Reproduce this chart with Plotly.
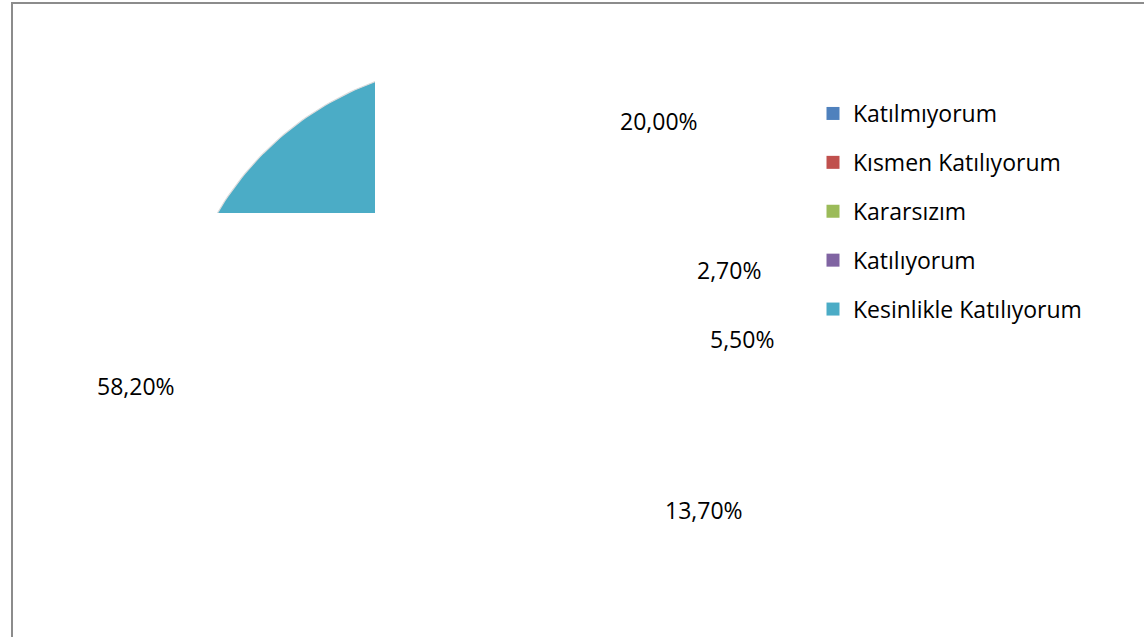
import numpy as np
import plotly.graph_objects as go

# ---- data ----
categories = ["Katılmıyorum", "Kısmen Katılıyorum", "Kararsızım", "Katılıyorum", "Kesinlikle Katılıyorum"]
values = [20.0, 2.7, 5.5, 13.7, 58.2]
colors = ["#4F81BD", "#C0504D", "#9BBB59", "#8064A2", "#4BACC6"]

# ---- layout constants (pixels) ----
W, H = 1144, 637
CX, CY, R = 480.0, 368.0, 305.0          # pie centre / radius in page pixels
CLIP_RIGHT, CLIP_BOTTOM = 375.0, 213.0     # visible plot-area clip
LABEL_K = 1.0
LABEL_NUDGE = [(0, 0), (-48, -28), (-43, -37), (-23, -38), (-49, -59)]
FONT = "Open Sans"

fig = go.Figure()

total = sum(values)
cum = np.concatenate([[0.0], np.cumsum(values) / total])

# pie slices drawn as filled polygons (clockwise from 12 o'clock) on a clipped axis
for i, (name, col) in enumerate(zip(categories, colors)):
    th = np.linspace(cum[i], cum[i + 1], 200) * 2 * np.pi
    xs = np.concatenate([[0.0], np.sin(th), [0.0]])
    ys = np.concatenate([[0.0], np.cos(th), [0.0]])
    fig.add_trace(go.Scatter(
        x=xs, y=ys, mode="lines", fill="toself", fillcolor=col,
        line=dict(color="#dcdcdc", width=1.2), hoverinfo="skip",
        showlegend=False, xaxis="x", yaxis="y"))

# legend entries
for name, col in zip(categories, colors):
    fig.add_trace(go.Scatter(
        x=[50], y=[50], mode="markers", name=name, legendgroup=name,
        marker=dict(symbol="square", size=13, color=col),
        xaxis="x", yaxis="y", hoverinfo="skip"))

# data labels
annotations = []
for i, v in enumerate(values):
    mid = (cum[i] + cum[i + 1]) / 2 * 2 * np.pi
    px = CX + LABEL_K * R * np.sin(mid)
    py = CY - LABEL_K * R * np.cos(mid)
    nx, ny = LABEL_NUDGE[i]
    annotations.append(dict(
        x=px / W, y=1 - py / H, xref="paper", yref="paper",
        text=f"{v:.2f}".replace(".", ",") + "%", showarrow=False,
        xanchor="center", yanchor="middle", xshift=nx, yshift=-ny,
        font=dict(family=FONT, size=23, color="#000000")))

fig.update_layout(
    width=W, height=H,
    margin=dict(l=0, r=0, t=0, b=0),
    paper_bgcolor="white", plot_bgcolor="rgba(0,0,0,0)",
    font=dict(family=FONT, size=23, color="#000000"),
    xaxis=dict(domain=[0, CLIP_RIGHT / W],
               range=[(0 - CX) / R, (CLIP_RIGHT - CX) / R],
               visible=False, fixedrange=True),
    yaxis=dict(domain=[1 - CLIP_BOTTOM / H, 1],
               range=[(CY - CLIP_BOTTOM) / R, CY / R],
               visible=False, fixedrange=True),
    showlegend=True,
    legend=dict(x=813 / W, y=1 - 92 / H, xanchor="left", yanchor="top",
                font=dict(family=FONT, size=23, color="#000000"),
                tracegroupgap=16, bgcolor="rgba(0,0,0,0)"),
    annotations=annotations,
    shapes=[dict(type="rect", xref="paper", yref="paper",
                 x0=12 / W, x1=1.02, y0=-0.02, y1=1 - 3 / H,
                 line=dict(color="#8c8c8c", width=2), fillcolor="rgba(0,0,0,0)",
                 layer="above")],
)

fig.write_html("out.html", config={"displayModeBar": False},
               post_script="document.body.style.margin='0';")
